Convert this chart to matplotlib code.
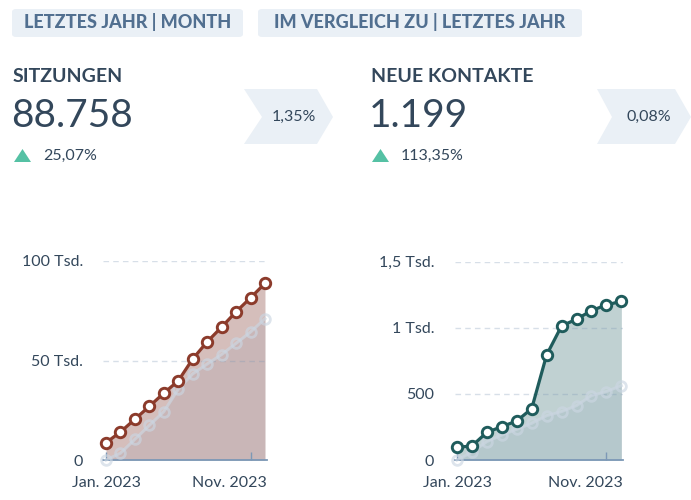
import matplotlib
matplotlib.use("Agg")
import matplotlib.pyplot as plt
from matplotlib.patches import Polygon, FancyBboxPatch
from matplotlib.ticker import FixedLocator

plt.rcParams['font.family'] = ['Lato', 'DejaVu Sans']

# ---------------- data ----------------
months = ["Jan", "Feb", "Mär", "Apr", "Mai", "Jun", "Jul", "Aug", "Sep", "Okt", "Nov", "Dez"]
sessions_current = [8700, 14100, 20500, 27000, 33600, 39800, 50800, 59400, 66800, 74500, 81500, 88758]
sessions_previous = [0, 3400, 10400, 17400, 24300, 35600, 43300, 48200, 53000, 58600, 64300, 70967]
contacts_current = [96, 106, 209, 252, 295, 388, 794, 1013, 1064, 1129, 1172, 1199]
contacts_previous = [0, 58, 139, 189, 232, 277, 335, 366, 411, 487, 517, 562]

tags = ["LETZTES JAHR | MONTH", "IM VERGLEICH ZU | LETZTES JAHR"]
kpi_titles = ["SITZUNGEN", "NEUE KONTAKTE"]
kpi_values = ["88.758", "1.199"]
kpi_changes = ["25,07%", "113,35%"]
kpi_shares = ["1,35%", "0,08%"]
x_labels = ["Jan. 2023", "Nov. 2023"]
sessions_ticks = [0, 50000, 100000]
sessions_ticklabels = ["0", "50 Tsd.", "100 Tsd."]
contacts_ticks = [0, 500, 1000, 1500]
contacts_ticklabels = ["0", "500", "1 Tsd.", "1,5 Tsd."]

# ---------------- style ----------------
W, H = 691, 500
DARK = "#33475b"
TAG_BG = "#eaf0f6"
TAG_FG = "#516f90"
GREEN = "#55c1a4"
AXIS = "#7c98b6"
PREV = "#cbd6e2"

fig = plt.figure(figsize=(W / 100, H / 100), dpi=100)

def P(x, y):
    return (x / W, 1 - y / H)

def poly(points, color):
    fig.patches.append(Polygon([P(x, y) for x, y in points], closed=True,
                               transform=fig.transFigure, facecolor=color,
                               edgecolor="none", figure=fig))

def rbox(x0, y0, x1, y1, color):
    a = P(x0, y1)
    fig.patches.append(FancyBboxPatch(a, (x1 - x0) / W, (y1 - y0) / H,
                                      boxstyle="round,pad=0,rounding_size=0.006",
                                      transform=fig.transFigure, facecolor=color,
                                      edgecolor="none", figure=fig))

# tags
rbox(12, 9, 243, 37, TAG_BG)
rbox(258, 9, 582, 37, TAG_BG)
fig.text(*P(127.5, 22), tags[0], ha="center", va="center", fontsize=13,
         fontweight="black", color=TAG_FG)
fig.text(*P(420, 22), tags[1], ha="center", va="center", fontsize=13,
         fontweight="black", color=TAG_FG)

# KPI blocks
for i, x0 in enumerate([13, 371]):
    fig.text(*P(x0, 76), kpi_titles[i], ha="left", va="center", fontsize=14,
             fontweight="bold", color=DARK)
    fig.text(*P(x0 - 2, 116), kpi_values[i], ha="left", va="center", fontsize=28,
             fontweight="normal", color=DARK)
    tx = x0 + 1
    poly([(tx, 162), (tx + 17, 162), (tx + 8.5, 149)], GREEN)
    fig.text(*P(x0 + 30, 156), kpi_changes[i], ha="left", va="center",
             fontsize=11.5, color=DARK)

# chevrons
poly([(244, 89), (317, 89), (333, 117), (317, 144), (244, 144), (262, 117)], TAG_BG)
fig.text(*P(294, 117), kpi_shares[0], ha="center", va="center", fontsize=11.5, color=DARK)
poly([(597, 89), (675, 89), (691, 117), (675, 144), (597, 144), (612, 117)], TAG_BG)
fig.text(*P(649, 117), kpi_shares[1], ha="center", va="center", fontsize=11.5, color=DARK)


def chart(ax_px, xlim, ylim, cur, prev, line_c, fill_c, ticks, ticklabels, pad):
    x0, x1, ytop, ybot = ax_px
    ax = fig.add_axes([x0 / W, 1 - ybot / H, (x1 - x0) / W, (ybot - ytop) / H])
    xs = list(range(len(cur)))
    ax.fill_between(xs, cur, 0, color=fill_c, lw=0, zorder=1)
    ax.fill_between(xs, prev, 0, color="#516f90", alpha=0.09, lw=0, zorder=1.1)
    for t in ticks[1:]:
        ax.axhline(t, color=AXIS, alpha=0.3, lw=1, ls=(0, (4, 3)), zorder=1.2)
    ax.plot(xs, prev, color=PREV, lw=2.2, alpha=0.65, marker="o", ms=7,
            mfc="none", mec=PREV, mew=2, zorder=2, clip_on=False)
    ax.plot(xs, cur, color=line_c, lw=2.3, marker="o", ms=7.5, mfc="white",
            mec=line_c, mew=2.1, zorder=3, clip_on=False)
    ax.set_xlim(*xlim)
    ax.set_ylim(*ylim)
    for s in ["top", "right", "left"]:
        ax.spines[s].set_visible(False)
    ax.spines["bottom"].set_color(AXIS)
    ax.spines["bottom"].set_linewidth(1.3)
    ax.spines["bottom"].set_zorder(1.5)
    ax.yaxis.set_major_locator(FixedLocator(ticks))
    ax.set_yticklabels(ticklabels)
    ax.tick_params(axis="y", length=0, pad=pad, labelsize=11.5, labelcolor=DARK)
    ax.set_xticks([0, 10])
    ax.set_xticklabels([])
    ax.tick_params(axis="x", direction="in", length=6, width=1, color=AXIS)
    ax.text(0, -0.08, x_labels[0], transform=ax.get_xaxis_transform(),
            ha="center", va="top", fontsize=11.5, color=DARK)
    ax.text(1.0, -0.08, x_labels[1], transform=ax.transAxes,
            ha="right", va="top", fontsize=11.5, color=DARK)
    ax.patch.set_alpha(0)
    return ax


chart((103, 267, 261, 460), (-0.21, 11.14), (0, 100000),
      sessions_current, sessions_previous, "#8c3b2b", "#d5bebb",
      sessions_ticks, sessions_ticklabels, 14.5)
chart((455, 623, 261.5, 460), (-0.13, 11.11), (0, 1500),
      contacts_current, contacts_previous, "#1f5c5c", "#c0d1d2",
      contacts_ticks, contacts_ticklabels, 15)

fig.savefig("out.png", dpi=100)
